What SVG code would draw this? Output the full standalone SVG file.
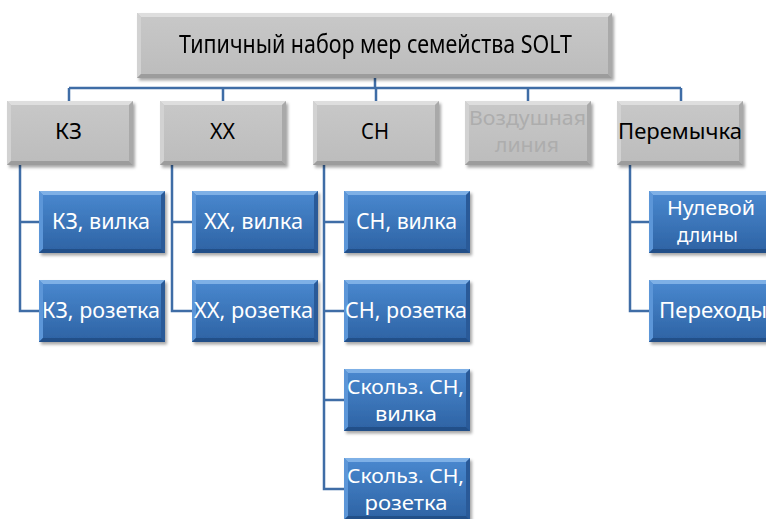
<svg xmlns="http://www.w3.org/2000/svg" xmlns:xlink="http://www.w3.org/1999/xlink" width="766" height="519" viewBox="0 0 766 519">
<style>
text{font-family:"Noto Sans","Open Sans","DejaVu Sans",sans-serif;text-anchor:middle;}
.t1{font-size:25px;fill:#000;}
.t2{font-size:22px;fill:#000;}
.dim{fill:#adadad;}
.t3{font-size:22px;fill:#fff;}
.two{font-size:20px;}
.conn{fill:none;stroke:#3f6da6;stroke-width:2.5;}
</style>
<defs>
<filter id="sh" x="-10%" y="-10%" width="130%" height="140%">
<feDropShadow dx="2" dy="2.5" stdDeviation="1.5" flood-color="#000" flood-opacity="0.35"/>
</filter>
<linearGradient id="bg" x1="0" y1="0" x2="0" y2="1">
<stop offset="0" stop-color="#4a89d0"/>
<stop offset="1" stop-color="#2d62a3"/>
</linearGradient>
<linearGradient id="gg" x1="0" y1="0" x2="0" y2="1">
<stop offset="0" stop-color="#c8c8c8"/>
<stop offset="1" stop-color="#bcbcbc"/>
</linearGradient>
<g id="gbox">
<rect width="126" height="64" fill="url(#gg)"/>
<polygon points="0,0 126,0 122,4 4,4" fill="#dedede"/>
<polygon points="0,0 4,4 4,60 0,64" fill="#d2d2d2"/>
<polygon points="126,0 126,64 122,60 122,4" fill="#a9a9a9"/>
<polygon points="0,64 126,64 122,60 4,60" fill="#9c9c9c"/>
</g>
<g id="bbox">
<rect width="126" height="62" fill="url(#bg)"/>
<polygon points="0,0 126,0 122,4 4,4" fill="#7eb0e6"/>
<polygon points="0,0 4,4 4,58 0,62" fill="#5b96d8"/>
<polygon points="126,0 126,62 122,58 122,4" fill="#2a5a98"/>
<polygon points="0,62 126,62 122,58 4,58" fill="#234f88"/>
</g>
</defs>
<rect width="766" height="519" fill="#fff"/>
<g id="connectors">
<path class="conn" d="M375 78 V88 M69 88 H681 M69 88 V101 M223 88 V101 M376 88 V101 M528 88 V101 M681 88 V101"/>
<path class="conn" d="M20 165 V311 H39 M20 222 H39"/>
<path class="conn" d="M172 165 V311 H192 M172 222 H192"/>
<path class="conn" d="M324 165 V489 H344 M324 222 H344 M324 311 H344 M324 400 H344"/>
<path class="conn" d="M630 165 V311 H649 M630 222 H649"/>
</g>
<g id="root" filter="url(#sh)">
<rect x="137" y="13" width="475" height="65" fill="url(#gg)"/>
<polygon points="137,13 612,13 608,17 141,17" fill="#dedede"/>
<polygon points="137,13 141,17 141,74 137,78" fill="#d2d2d2"/>
<polygon points="612,13 612,78 608,74 608,17" fill="#a9a9a9"/>
<polygon points="137,78 612,78 608,74 141,74" fill="#9c9c9c"/>
<text class="t1" x="375.5" y="53" textLength="393" lengthAdjust="spacingAndGlyphs">Типичный набор мер семейства SOLT</text>
</g>
<g id="kz"><use href="#gbox" x="7" y="101" filter="url(#sh)"/><text class="t2" x="68.5" y="139" textLength="27" lengthAdjust="spacingAndGlyphs">КЗ</text></g>
<g id="xx"><use href="#gbox" x="160" y="101" filter="url(#sh)"/><text class="t2" x="222.5" y="139" textLength="25" lengthAdjust="spacingAndGlyphs">ХХ</text></g>
<g id="sn"><use href="#gbox" x="313" y="101" filter="url(#sh)"/><text class="t2" x="375" y="139" textLength="28" lengthAdjust="spacingAndGlyphs">СН</text></g>
<g id="air"><use href="#gbox" x="465" y="101" filter="url(#sh)"/><text class="t2 dim two" x="527.5" y="125" textLength="117" lengthAdjust="spacingAndGlyphs">Воздушная</text><text class="t2 dim two" x="527" y="152" textLength="64" lengthAdjust="spacingAndGlyphs">линия</text></g>
<g id="thru"><use href="#gbox" x="617" y="101" filter="url(#sh)"/><text class="t2" x="680" y="139" textLength="124" lengthAdjust="spacingAndGlyphs">Перемычка</text></g>
<g id="kz-plug"><use href="#bbox" x="39" y="191" filter="url(#sh)"/><text class="t3" x="101" y="229" textLength="98" lengthAdjust="spacingAndGlyphs">КЗ, вилка</text></g>
<g id="kz-jack"><use href="#bbox" x="39" y="280" filter="url(#sh)"/><text class="t3" x="101" y="318" textLength="118" lengthAdjust="spacingAndGlyphs">КЗ, розетка</text></g>
<g id="xx-plug"><use href="#bbox" x="192" y="191" filter="url(#sh)"/><text class="t3" x="253.5" y="229" textLength="99" lengthAdjust="spacingAndGlyphs">ХХ, вилка</text></g>
<g id="xx-jack"><use href="#bbox" x="192" y="280" filter="url(#sh)"/><text class="t3" x="253.5" y="318" textLength="119" lengthAdjust="spacingAndGlyphs">ХХ, розетка</text></g>
<g id="sn-plug"><use href="#bbox" x="344" y="191" filter="url(#sh)"/><text class="t3" x="406.5" y="229" textLength="101" lengthAdjust="spacingAndGlyphs">СН, вилка</text></g>
<g id="sn-jack"><use href="#bbox" x="344" y="280" filter="url(#sh)"/><text class="t3" x="406" y="318" textLength="122" lengthAdjust="spacingAndGlyphs">СН, розетка</text></g>
<g id="slide-plug"><use href="#bbox" x="344" y="369" filter="url(#sh)"/><text class="t3 two" x="405.5" y="394" textLength="117" lengthAdjust="spacingAndGlyphs">Скольз. СН,</text><text class="t3 two" x="406" y="421" textLength="62" lengthAdjust="spacingAndGlyphs">вилка</text></g>
<g id="slide-jack"><use href="#bbox" x="344" y="458" filter="url(#sh)"/><text class="t3 two" x="405.5" y="483" textLength="117" lengthAdjust="spacingAndGlyphs">Скольз. СН,</text><text class="t3 two" x="406" y="510" textLength="83" lengthAdjust="spacingAndGlyphs">розетка</text></g>
<g id="zero"><use href="#bbox" x="649" y="191" filter="url(#sh)"/><text class="t3 two" x="711" y="215" textLength="88" lengthAdjust="spacingAndGlyphs">Нулевой</text><text class="t3 two" x="707.5" y="242" textLength="61" lengthAdjust="spacingAndGlyphs">длины</text></g>
<g id="adapters"><use href="#bbox" x="649" y="280" filter="url(#sh)"/><text class="t3" x="659" y="318" style="text-anchor:start" textLength="108" lengthAdjust="spacingAndGlyphs">Переходы</text></g>
</svg>
